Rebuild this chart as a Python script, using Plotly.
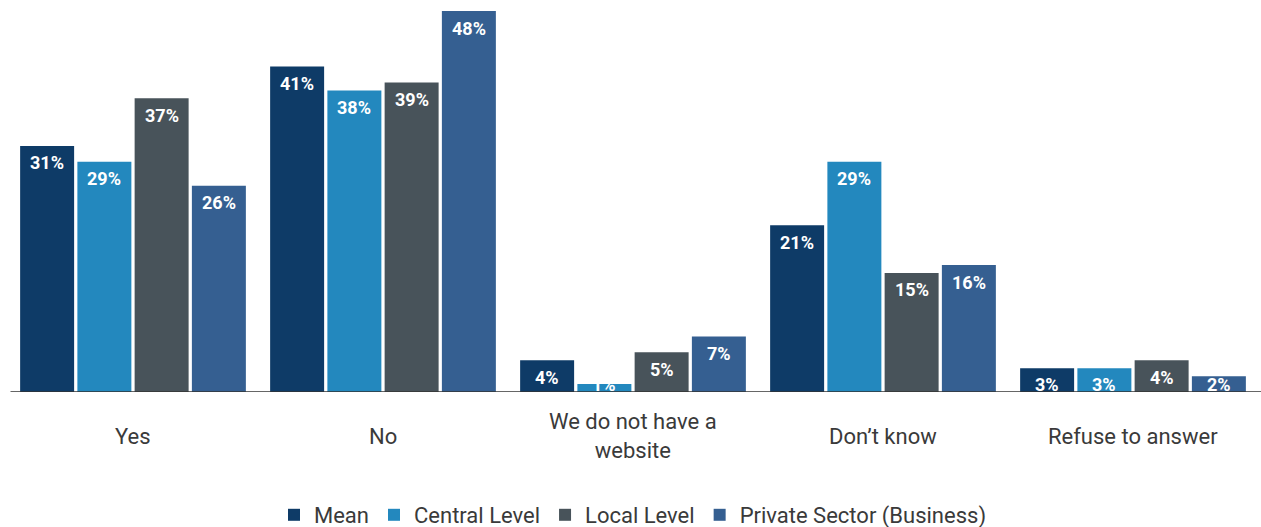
import plotly.graph_objects as go

categories = ["Yes", "No", "We do not have a<br>website", "Don’t know", "Refuse to answer"]
series_names = ["Mean", "Central Level", "Local Level", "Private Sector (Business)"]
mean_vals = [31, 41, 4, 21, 3]
central_vals = [29, 38, 1, 29, 3]
local_vals = [37, 39, 5, 15, 4]
private_vals = [26, 48, 7, 16, 2]
colors = ["#0e3b67", "#2388be", "#48535a", "#355f91"]

W, H = 1261, 527
m_l, m_r, m_t, m_b = 8, 3, 11, 135
plot_h = H - m_t - m_b
y_max = 48
px_per_unit = plot_h / y_max

bargap = 0.084
bargroupgap = 0.057
n_series = len(series_names)
slot = (1 - bargap) / n_series

all_vals = [mean_vals, central_vals, local_vals, private_vals]

fig = go.Figure()
for name, vals, col in zip(series_names, all_vals, colors):
    fig.add_trace(go.Bar(
        x=list(range(len(categories))),
        y=vals,
        name=name,
        marker=dict(color=col, line=dict(width=0)),
        hoverinfo="skip",
    ))

# value labels: white bold text just inside the top of each bar
label_font = dict(family="Roboto", size=18, color="white", weight="bold")
for j, vals in enumerate(all_vals):
    for i, v in enumerate(vals):
        centre = max(v - 17 / px_per_unit, 8 / px_per_unit)
        fig.add_annotation(
            x=i + (j - (n_series - 1) / 2) * slot, y=centre, xref="x", yref="y",
            text=f"{v}%", showarrow=False, xanchor="center", yanchor="middle",
            font=label_font,
        )

# category labels, vertically centred under each group
for i, c in enumerate(categories):
    fig.add_annotation(
        x=i, y=-44 / plot_h, xref="x", yref="paper",
        text=c, showarrow=False, yanchor="middle", xanchor="center",
        font=dict(family="Roboto", size=22, color="#3a3a3a"),
    )

fig.update_layout(
    width=W, height=H,
    margin=dict(l=m_l, r=m_r, t=m_t, b=m_b, autoexpand=False),
    paper_bgcolor="white", plot_bgcolor="white",
    barmode="group", bargap=bargap, bargroupgap=bargroupgap,
    showlegend=True,
    legend=dict(
        orientation="h", x=0.5, xanchor="center", y=-123 / plot_h, yanchor="middle",
        font=dict(family="Roboto", size=22, color="#3a3a3a"),
        itemwidth=30, tracegroupgap=0,
    ),
    xaxis=dict(
        range=[-0.5, len(categories) - 0.5],
        showticklabels=False, ticks="", showgrid=False, zeroline=False,
        showline=False,
    ),
    yaxis=dict(
        range=[0, y_max], visible=False, showgrid=False, zeroline=False,
    ),
    shapes=[dict(type="line", xref="paper", yref="y", x0=0.002, x1=1.01, y0=0, y1=0,
                 line=dict(color="#333333", width=1.5))],
)

fig.write_html("out.html")
